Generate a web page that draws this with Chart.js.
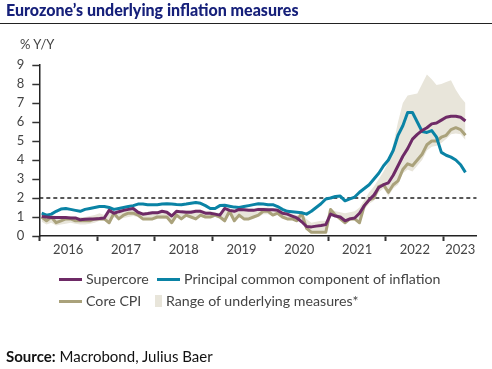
<!DOCTYPE html>
<html>
<head>
<meta charset="utf-8">
<script src="https://cdn.jsdelivr.net/npm/chart.js@4/dist/chart.umd.min.js"></script>
<style>
  html, body { margin: 0; padding: 0; background: #fff; }
  body { width: 492px; height: 369px; position: relative; overflow: hidden; font-family: Lato, "Noto Sans", sans-serif; }
  #chart { position: absolute; left: 0; top: 0; }
  .txt { position: absolute; white-space: nowrap; line-height: 1; }
  #title { left: 6px; top: 2px; font-size: 16px; font-weight: 900; color: #16207a; }
  #rule { position: absolute; left: 0; top: 23px; width: 492px; height: 1px; background: #222; }
  #unit { left: 20px; top: 38px; font-size: 13px; color: #444; }
  .leg { font-size: 14.2px; color: #444; }
  .sw { position: absolute; width: 23px; height: 3px; }
  .box { position: absolute; width: 7px; height: 12px; background: #e8e5da; }
  #source { left: 6px; top: 349px; font-size: 15px; color: #111; }
</style>
</head>
<body>
<canvas id="chart" width="492" height="369"></canvas>
<div class="txt" id="title">Eurozone’s underlying inflation measures</div>
<div id="rule"></div>
<div class="txt" id="unit">% Y/Y</div>

<div class="sw" style="left:59px;top:278px;background:#6e2a66"></div>
<div class="txt leg" style="left:86px;top:272px">Supercore</div>
<div class="sw" style="left:157px;top:278px;background:#0a83a5"></div>
<div class="txt leg" style="left:184px;top:272px">Principal common component of inflation</div>
<div class="sw" style="left:59px;top:300px;background:#aaa27b"></div>
<div class="txt leg" style="left:86px;top:294px">Core CPI</div>
<div class="box" style="left:155px;top:295px"></div>
<div class="txt leg" style="left:166px;top:294px">Range of underlying measures*</div>

<div class="txt" id="source"><b>Source:</b> Macrobond, Julius Baer</div>

<script>
// monthly data, Jan 2016 .. May 2023
const startYear = 2016;
const yearLabels = ['2016', '2017', '2018', '2019', '2020', '2021', '2022', '2023'];
const yTicks = [0, 1, 2, 3, 4, 5, 6, 7, 8, 9];
const targetLevel = 2;

const supercore = [
  1.02, 1.0, 0.98, 0.98, 0.97, 0.97, 0.95, 0.95, 0.85, 0.88, 0.9, 0.9,
  0.92, 0.95, 1.35, 1.2, 1.28, 1.35, 1.4, 1.45, 1.25, 1.15, 1.18, 1.22,
  1.22, 1.3, 1.25, 1.05, 1.3, 1.27, 1.25, 1.25, 1.3, 1.3, 1.2, 1.2,
  1.15, 1.1, 1.45, 1.35, 1.3, 1.4, 1.38, 1.35, 1.35, 1.4, 1.4, 1.38,
  1.38, 1.35, 1.2, 1.15, 1.05, 0.95, 0.75, 0.5, 0.48, 0.52, 0.55, 0.6,
  1.15, 1.05, 1.0, 0.8, 0.9, 0.95, 1.2, 1.6, 1.9, 2.15, 2.55, 2.7,
  2.8, 3.2, 3.7, 4.2, 4.6, 5.1, 5.35, 5.55, 5.7, 5.9, 5.95, 6.1,
  6.25, 6.3, 6.3, 6.25, 6.05
];
const pcci = [
  1.2, 1.1, 1.15, 1.3, 1.42, 1.45, 1.4, 1.35, 1.3, 1.4, 1.45, 1.5,
  1.55, 1.55, 1.5, 1.4, 1.45, 1.5, 1.55, 1.6, 1.68, 1.68, 1.65, 1.65,
  1.65, 1.68, 1.7, 1.68, 1.66, 1.65, 1.68, 1.72, 1.76, 1.72, 1.6, 1.45,
  1.45, 1.6, 1.62, 1.57, 1.52, 1.5, 1.55, 1.6, 1.65, 1.7, 1.68, 1.65,
  1.65, 1.55, 1.4, 1.3, 1.28, 1.25, 1.22, 1.15, 1.3, 1.5, 1.7, 1.95,
  2.0, 2.08, 2.1, 1.85, 1.95, 2.05, 2.3, 2.5, 2.7, 3.0, 3.3, 3.7,
  4.0, 4.5, 5.3, 5.8, 6.5, 6.5, 6.0, 5.5, 5.45, 5.55, 5.2, 4.4,
  4.25, 4.15, 4.0, 3.75, 3.35
];
const coreCpi = [
  1.0, 0.8, 1.0, 0.7, 0.8, 0.9, 0.9, 0.8, 0.8, 0.8, 0.8, 0.9,
  0.9, 0.9, 0.7, 1.2, 0.9, 1.1, 1.2, 1.2, 1.1, 0.9, 0.9, 0.9,
  1.0, 1.0, 1.0, 0.7, 1.1, 0.9, 1.1, 1.0, 0.9, 1.1, 1.0, 1.0,
  1.1, 1.0, 0.8, 1.3, 0.8, 1.1, 0.9, 0.9, 1.0, 1.1, 1.3, 1.3,
  1.1, 1.2, 1.0, 0.9, 0.9, 0.8, 1.2, 0.4, 0.2, 0.2, 0.2, 0.2,
  1.4, 1.1, 0.9, 0.7, 0.9, 0.9, 0.7, 1.6, 1.9, 2.0, 2.6, 2.7,
  2.3, 2.7, 2.9, 3.5, 3.8, 3.7, 4.0, 4.3, 4.8, 5.0, 5.0, 5.2,
  5.3, 5.6, 5.7, 5.6, 5.3
];
const rangeLow = [
  0.75, 0.6, 0.7, 0.55, 0.6, 0.65, 0.7, 0.65, 0.6, 0.6, 0.65, 0.7,
  0.8, 0.8, 0.65, 1.0, 0.85, 0.95, 1.0, 1.05, 1.0, 0.85, 0.85, 0.85,
  0.9, 0.9, 0.9, 0.65, 1.0, 0.85, 1.0, 0.95, 0.85, 1.0, 0.95, 0.95,
  1.0, 0.95, 0.75, 1.15, 0.75, 1.0, 0.85, 0.85, 0.95, 1.0, 1.15, 1.15,
  1.05, 1.1, 0.95, 0.85, 0.85, 0.75, 0.9, 0.35, 0.15, 0.15, 0.15, 0.15,
  1.1, 1.0, 0.85, 0.65, 0.8, 0.85, 0.7, 1.4, 1.7, 1.85, 2.3, 2.5,
  2.1, 2.5, 2.7, 3.3, 3.5, 3.4, 3.7, 4.0, 4.5, 4.7, 4.75, 4.9,
  5.1, 5.35, 5.4, 5.35, 5.05
];
const rangeHigh = [
  1.15, 1.1, 1.1, 1.05, 1.05, 1.0, 1.05, 1.0, 1.0, 1.0, 1.05, 1.1,
  1.2, 1.1, 1.4, 1.3, 1.3, 1.4, 1.45, 1.5, 1.3, 1.25, 1.25, 1.3,
  1.3, 1.35, 1.3, 1.15, 1.35, 1.35, 1.35, 1.35, 1.4, 1.4, 1.3, 1.3,
  1.25, 1.2, 1.5, 1.45, 1.4, 1.45, 1.45, 1.45, 1.45, 1.5, 1.5, 1.5,
  1.45, 1.45, 1.35, 1.25, 1.15, 1.1, 1.2, 0.9, 0.7, 0.75, 0.8, 0.8,
  1.4, 1.3, 1.25, 1.2, 1.25, 1.3, 1.5, 1.9, 2.3, 2.6, 3.0, 3.4,
  3.9, 4.8, 6.0, 7.0, 7.4, 7.45, 7.5, 8.0, 8.5, 8.25, 7.95, 8.0,
  8.1, 8.2, 7.7, 7.3, 7.0
];

const xMin = 2016;
const xMax = 2023.57;

function toPoints(values) {
  return values.map((v, i) => ({ x: startYear + (i + 0.5) / 12, y: v }));
}

const PURPLE = '#6e2a66';
const TEAL = '#0a83a5';
const TAN = '#aaa27b';
const BAND = '#e8e5da';

// tick positions: year boundaries get a tick mark, year centres carry the label
function yearTicks() {
  const ticks = [];
  yearLabels.forEach((lbl, i) => {
    const y = startYear + i;
    ticks.push({ value: y });
    const end = Math.min(y + 1, xMax);
    ticks.push({ value: (y + end) / 2, label: lbl });
  });
  return ticks.sort((a, b) => a.value - b.value);
}

const lineStyle = { borderWidth: 3, pointRadius: 0, tension: 0, fill: false, borderJoinStyle: 'round' };

new Chart(document.getElementById('chart'), {
  type: 'line',
  data: {
    datasets: [
      Object.assign({ label: 'Supercore', data: toPoints(supercore), borderColor: PURPLE }, lineStyle),
      Object.assign({ label: 'Principal common component of inflation', data: toPoints(pcci), borderColor: TEAL }, lineStyle),
      Object.assign({ label: 'Core CPI', data: toPoints(coreCpi), borderColor: TAN }, lineStyle),
      {
        label: 'target',
        data: [{ x: xMin, y: targetLevel }, { x: xMax, y: targetLevel }],
        borderColor: '#222', borderWidth: 1.5, borderDash: [4, 3], pointRadius: 0, fill: false
      },
      {
        label: 'Range of underlying measures*',
        data: toPoints(rangeHigh),
        borderWidth: 0, pointRadius: 0, backgroundColor: BAND, fill: '+1', tension: 0
      },
      {
        label: 'range low',
        data: toPoints(rangeLow),
        borderWidth: 0, pointRadius: 0, fill: false, tension: 0
      }
    ]
  },
  options: {
    responsive: false,
    animation: false,
    layout: { padding: { left: 0, right: 15.3, top: 65, bottom: 113 } },
    plugins: { legend: { display: false }, tooltip: { enabled: false } },
    scales: {
      x: {
        type: 'linear',
        min: xMin,
        max: xMax,
        afterBuildTicks: function(axis) { axis.ticks = yearTicks(); },
        afterFit: function(axis) { axis.height = 20; },
        border: { color: '#222', width: 1.5 },
        grid: {
          drawOnChartArea: false,
          tickLength: 5,
          tickWidth: 2,
          tickColor: function(ctx) {
            return ctx.tick && Number.isInteger(ctx.tick.value) ? '#333' : 'rgba(0,0,0,0)';
          }
        },
        ticks: {
          autoSkip: false,
          maxRotation: 0,
          padding: 1,
          color: '#444',
          font: { family: 'Lato', size: 13 },
          callback: function(value, index, ticks) { return ticks[index].label || ''; }
        }
      },
      y: {
        min: 0,
        max: 9,
        afterBuildTicks: function(axis) { axis.ticks = yTicks.map(v => ({ value: v })); },
        afterFit: function(axis) { axis.width = 39.3; },
        border: { color: '#222', width: 1.5 },
        grid: { drawOnChartArea: false, tickLength: 7, tickColor: '#333', tickWidth: 1.5 },
        ticks: { padding: 8, color: '#444', font: { family: 'Lato', size: 13 } }
      }
    }
  }
});
</script>
</body>
</html>
